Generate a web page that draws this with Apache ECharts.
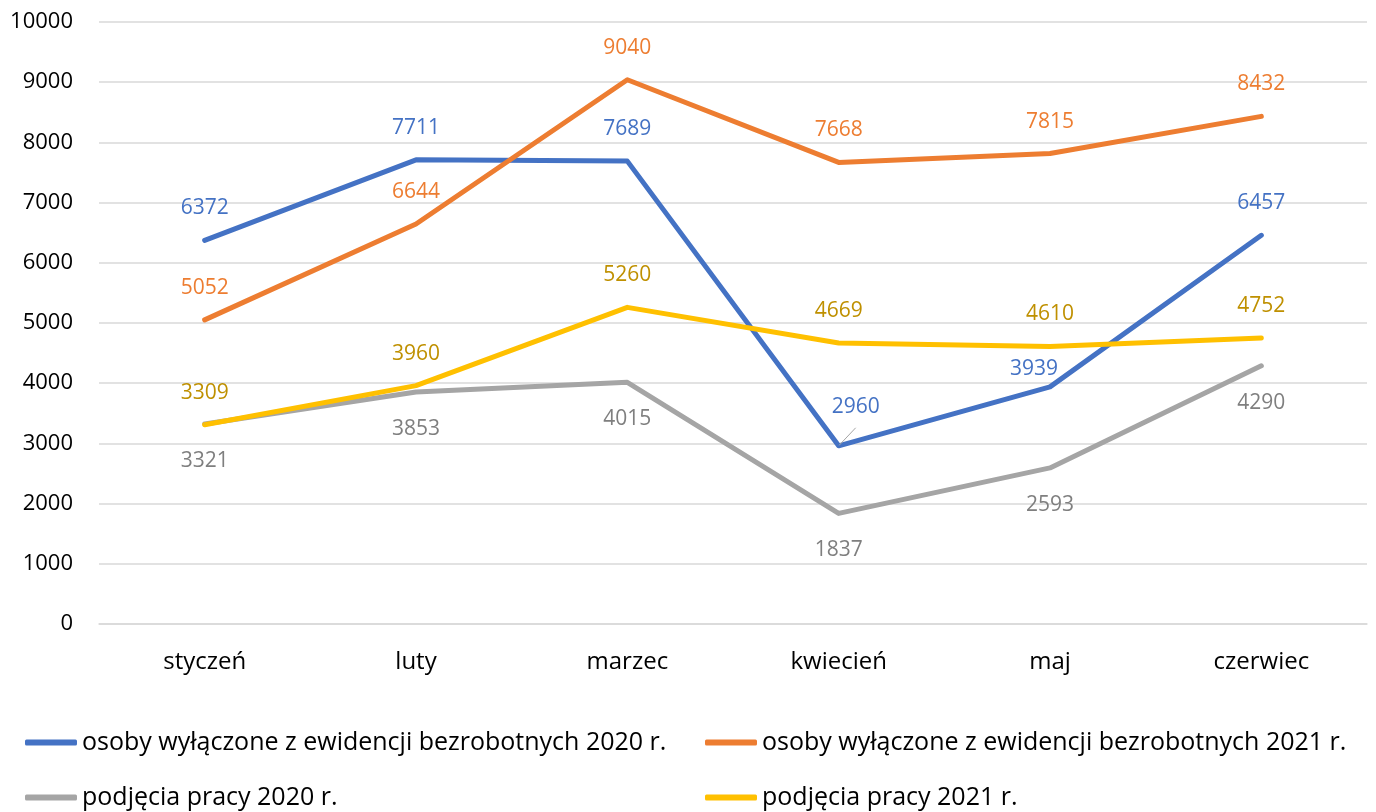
<!DOCTYPE html>
<html>
<head>
<meta charset="utf-8">
<script src="https://cdn.jsdelivr.net/npm/echarts@6/dist/echarts.min.js"></script>
<style>
  html, body { margin: 0; padding: 0; background: #fff; }
  #chart { width: 1376px; height: 812px; }
</style>
</head>
<body>
<div id="chart"></div>
<script>
const months = ['styczeń', 'luty', 'marzec', 'kwiecień', 'maj', 'czerwiec'];
const series_names = [
    'osoby wyłączone z ewidencji bezrobotnych 2020 r.',
    'osoby wyłączone z ewidencji bezrobotnych 2021 r.',
    'podjęcia pracy 2020 r.',
    'podjęcia pracy 2021 r.'
];
const wylaczone_2020 = [6372, 7711, 7689, 2960, 3939, 6457];
const wylaczone_2021 = [5052, 6644, 9040, 7668, 7815, 8432];
const podjecia_2020 = [3321, 3853, 4015, 1837, 2593, 4290];
const podjecia_2021 = [3309, 3960, 5260, 4669, 4610, 4752];

const line_colors = ['#4472C4', '#ED7D31', '#A5A5A5', '#FFC000'];
const label_colors = ['#4472C4', '#ED7D31', '#7F7F7F', '#BF9000'];
const font = '"Open Sans", "Noto Sans", sans-serif';

let chart = echarts.init(document.getElementById('chart'));

function make_series(idx, values, pos) {
    return {
        name: series_names[idx],
        type: 'line',
        data: values.map((v) => ({value: v})),
        showSymbol: true,
        symbol: 'circle',
        symbolSize: 1,
        itemStyle: {color: line_colors[idx]},
        color: line_colors[idx],
        lineStyle: {width: 5, color: line_colors[idx], cap: 'round', join: 'round'},
        label: {
            show: true,
            position: pos,
            distance: pos === 'top' ? 21 : 26,
            color: label_colors[idx],
            fontFamily: font,
            fontSize: 21
        }
    };
}

let s_blue = make_series(0, wylaczone_2020, 'top');
// kwiecień label moved aside with leader line
s_blue.data[3] = {
    value: wylaczone_2020[3],
    label: {offset: [17, -7]},
    labelLine: {show: true, lineStyle: {color: '#A5A5A5', width: 1}}
};
// maj label sits up-left of the point
s_blue.data[4] = {
    value: wylaczone_2020[4],
    label: {position: 'top', distance: 21, offset: [-16, 14]}
};

let legends = [
    {left: 25, top: 730},
    {left: 705, top: 730},
    {left: 25, top: 785},
    {left: 705, top: 785}
].map((p, i) => ({
    left: p.left,
    top: p.top,
    data: [series_names[i]],
    icon: 'roundRect',
    itemWidth: 52,
    itemHeight: 6,
    padding: 0,
    selectedMode: false,
    textStyle: {fontFamily: font, fontSize: 25, color: '#000'}
}));

let option = {
    backgroundColor: '#fff',
    animation: false,
    grid: {left: 99, right: 9, top: 22, bottom: 188},
    legend: legends,
    xAxis: {
        type: 'category',
        data: months,
        boundaryGap: true,
        axisLine: {lineStyle: {color: '#D9D9D9', width: 1.5}},
        axisTick: {show: false},
        axisLabel: {fontFamily: font, fontSize: 24, color: '#000', margin: 26}
    },
    yAxis: {
        type: 'value',
        min: 0,
        max: 10000,
        interval: 1000,
        axisLine: {show: false},
        axisTick: {show: false},
        splitLine: {lineStyle: {color: '#D9D9D9', width: 1.5}},
        axisLabel: {
            fontFamily: font, fontSize: 22, color: '#000', margin: 26,
            formatter: (v) => String(v)
        }
    },
    series: [
        s_blue,
        make_series(1, wylaczone_2021, 'top'),
        make_series(2, podjecia_2020, 'bottom'),
        make_series(3, podjecia_2021, 'top')
    ]
};

chart.setOption(option);
</script>
</body>
</html>
